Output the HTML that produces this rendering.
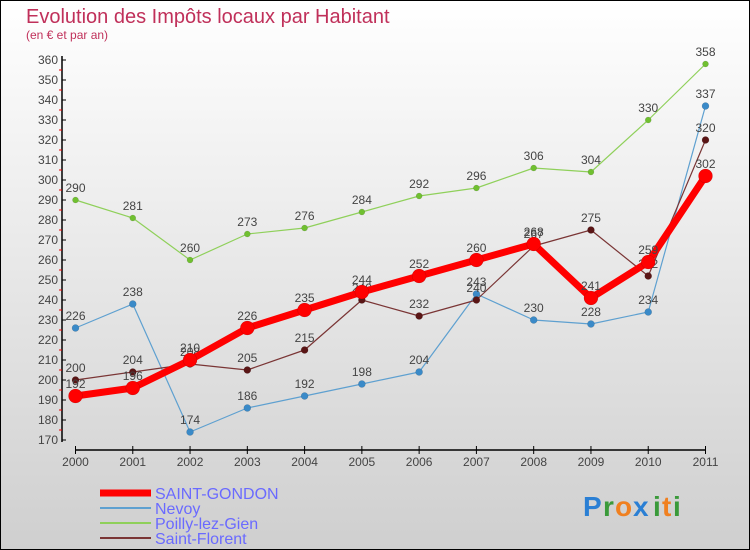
<!DOCTYPE html>
<html><head><meta charset="utf-8"><style>
body{margin:0}
#c{width:750px;height:550px;position:relative;box-sizing:border-box;border:1px solid #000;background:linear-gradient(#ffffff,#cfcfcf);font-family:"Liberation Sans",sans-serif;overflow:hidden}
</style></head><body>
<div id="c">
<svg width="750" height="550" style="position:absolute;left:-1px;top:-1px" id="s">
<text x="26" y="23" font-size="20" fill="#c0305a">Evolution des Impôts locaux par Habitant</text>
<text x="26" y="39" font-size="12" fill="#c0305a">(en € et par an)</text>
<g id="ax"></g><g id="ser"></g>
<g font-size="28" font-weight="bold" font-family="Liberation Sans,sans-serif">
<text x="583" y="516" fill="#2a7fd4">P</text><text x="603" y="516" fill="#3a9a3a">r</text><text x="615" y="516" fill="#f08020">o</text><text x="633" y="516" fill="#2a7fd4">x</text><text x="653" y="516" fill="#3a9a3a">i</text><text x="662" y="516" fill="#f08020">t</text><text x="673" y="516" fill="#3a9a3a">i</text>
</g>
</svg>
</div>
<script>
const years=["2000","2001","2002","2003","2004","2005","2006","2007","2008","2009","2010","2011"];
const saintGondon=[192,196,210,226,235,244,252,260,268,241,259,302];
const nevoy=[226,238,174,186,192,198,204,243,230,228,234,337];
const poilly=[290,281,260,273,276,284,292,296,306,304,330,358];
const saintFlorent=[200,204,208,205,215,240,232,240,267,275,252,320];
const yTicks=[170,180,190,200,210,220,230,240,250,260,270,280,290,300,310,320,330,340,350,360];
const NS="http://www.w3.org/2000/svg";
const xs=i=>75.5+i*(705.5-75.5)/11;
const ys=v=>440-(v-170)*2;
function mk(t,a,p){const e=document.createElementNS(NS,t);for(const k in a)e.setAttribute(k,a[k]);p.appendChild(e);return e;}
const ax=document.getElementById('ax');
const yl=mk('line',{x1:62,y1:56,x2:62,y2:442,stroke:'#000','stroke-width':1.5},ax);


const xl=mk('line',{x1:75,y1:450,x2:706,y2:450,stroke:'#000','stroke-width':1.5},ax);


yTicks.forEach((v,k)=>{
 mk('line',{x1:62,y1:ys(v),x2:66,y2:ys(v),stroke:'#000'},ax);
 if(k>0) mk('line',{x1:59,y1:ys(v)+10,x2:62,y2:ys(v)+10,stroke:'#e00'},ax);
 const t=mk('text',{x:58,y:ys(v)+4,'text-anchor':'end','font-size':12,fill:'#444'},ax);t.textContent=v;
 
 
});
years.forEach((y,i)=>{
 mk('line',{x1:xs(i),y1:446,x2:xs(i),y2:454,stroke:'#000'},ax);
 const t=mk('text',{x:xs(i),y:466,'text-anchor':'middle','font-size':12,fill:'#444'},ax);t.textContent=y;
 
 
});
const ser=document.getElementById('ser');
const series=[
 {name:'poilly-lez-gien',label:'Poilly-lez-Gien',d:poilly,c:'#8fd05a',m:'#70c030',w:1.2,r:3},
 {name:'nevoy',label:'Nevoy',d:nevoy,c:'#5ea0d0',m:'#3a8ac8',w:1.2,r:3.5},
 {name:'saint-florent',label:'Saint-Florent',d:saintFlorent,c:'#7a3535',m:'#5a1515',w:1.2,r:3.5},
 {name:'saint-gondon',label:'SAINT-GONDON',d:saintGondon,c:'#ff0000',m:'#ff0000',w:7,r:7},
];
series.forEach(s=>{
 const g=mk('g',{},ser);
 
 
 const p=mk('polyline',{points:s.d.map((v,i)=>xs(i)+','+ys(v)).join(' '),fill:'none',stroke:s.c,'stroke-width':s.w,'stroke-linejoin':'round'},g);
 
 
 s.d.forEach((v,i)=>{
  const c=mk('circle',{cx:xs(i),cy:ys(v),r:s.r,fill:s.m,stroke:'#0003','stroke-width':0.5},g);
  
  
  const t=mk('text',{x:xs(i),y:ys(v)-8,'text-anchor':'middle','font-size':12,fill:'#444'},g);t.textContent=v;
  
  
 });
});
const leg=[['SAINT-GONDON','#ff0000',7],['Nevoy','#5ea0d0',2],['Poilly-lez-Gien','#8fd05a',2],['Saint-Florent','#7a3535',2]];
leg.forEach((l,i)=>{
 const y=493+i*15;
 const g=mk('g',{},document.getElementById('s'));
 
 
 mk('line',{x1:100,y1:y,x2:151,y2:y,stroke:l[1],'stroke-width':l[2]},g);
 const t=mk('text',{x:155,y:y+6,'font-size':16,fill:'#6a6aff'},g);t.textContent=l[0];
});
</script>
</body></html>
